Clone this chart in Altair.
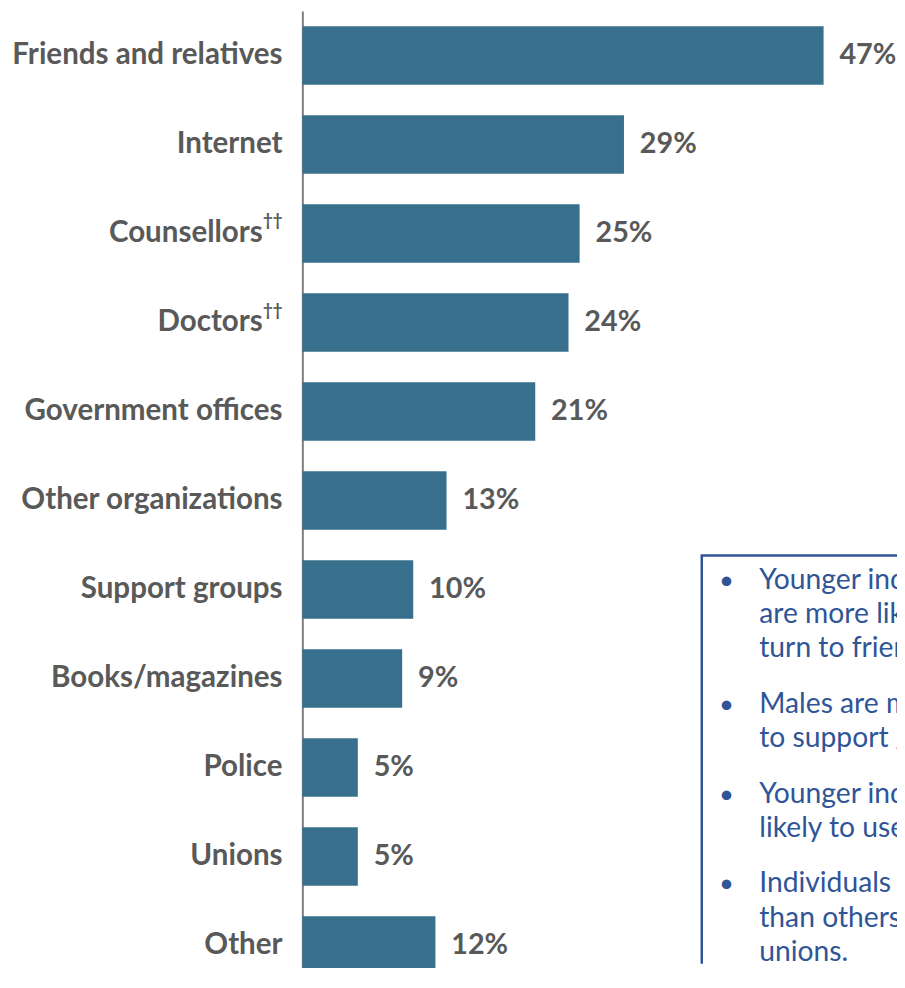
import altair as alt
import pandas as pd

categories = ["Friends and relatives", "Internet", "Counsellors", "Doctors",
              "Government offices", "Other organizations", "Support groups",
              "Books/magazines", "Police", "Unions", "Other"]
values = [47, 29, 25, 24, 21, 13, 10, 9, 5, 5, 12]
superscripts = ["", "", "††", "††", "", "", "", "", "", "", ""]
value_labels = [f"{v}%" for v in values]

note_paragraphs = [
    ["Younger individuals", "are more likely to", "turn to friends and relatives."],
    ["Males are more likely", "to support groups."],
    ["Younger individuals are more", "likely to use the Internet."],
    ["Individuals with disabilities", "than others to turn to", "unions."],
]

df = pd.DataFrame({"category": categories, "value": values,
                   "sup": superscripts, "label": value_labels})

BAR = "#376F8C"
GREY = "#595959"
NAVY = "#2F5597"
LFONT = "Lato"
LSIZE = 29.8

y_enc = alt.Y("category:N", sort=categories,
              scale=alt.Scale(range=[-1.4, 986.6], paddingInner=0.343,
                              paddingOuter=0.1715, round=False),
              axis=alt.Axis(title=None, labels=False, ticks=False, grid=False,
                            domainColor="#7F7F7F", domainWidth=2))
x_enc = alt.X("value:Q", scale=alt.Scale(domain=[0, 53.62], nice=False, zero=True), axis=None)

base = alt.Chart(df)
bars = base.mark_bar(color=BAR).encode(y=y_enc, x=x_enc)
vals = base.mark_text(align="left", baseline="middle", dx=16, font=LFONT,
                      fontSize=29, fontWeight="bold", color=GREY).encode(
    y=alt.Y("category:N", sort=categories), x="value:Q", text="label:N")
names_plain = base.transform_filter(alt.datum.sup == "").mark_text(
    align="right", baseline="middle", font=LFONT, fontSize=LSIZE,
    fontWeight="bold", color=GREY).encode(
    y=alt.Y("category:N", sort=categories), x=alt.value(-20), text="category:N")
names_sup = base.transform_filter(alt.datum.sup != "").mark_text(
    align="right", baseline="middle", font=LFONT, fontSize=LSIZE,
    fontWeight="bold", color=GREY).encode(
    y=alt.Y("category:N", sort=categories), x=alt.value(-40), text="category:N")
sups = base.transform_filter(alt.datum.sup != "").mark_text(
    align="right", baseline="middle", dy=-12, font=LFONT, fontSize=17,
    fontWeight="bold", color=GREY).encode(
    y=alt.Y("category:N", sort=categories), x=alt.value(-20), text="sup:N")

one = alt.Data(values=[{}])
box = alt.Chart(one).mark_rect(fill="white", stroke=NAVY, strokeWidth=2.5, clip=True).encode(
    x=alt.value(403), x2=alt.value(700), y=alt.value(548), y2=alt.value(1100))

layers = [bars, vals, names_plain, names_sup, sups, box]
ytop = 582
for lines in note_paragraphs:
    layers.append(alt.Chart(one).mark_text(
        align="left", baseline="alphabetic", font=LFONT, fontSize=28.5,
        lineHeight=34.5, color=NAVY, clip=True).encode(
        x=alt.value(461), y=alt.value(ytop), text=alt.value(lines)))
    layers.append(alt.Chart(one).mark_text(
        align="center", baseline="alphabetic", font=LFONT, fontSize=26,
        color=NAVY, clip=True).encode(
        x=alt.value(428), y=alt.value(ytop), text=alt.value("•")))
    ytop += 34.5 * (len(lines) - 1) + 56

chart = alt.layer(*layers).properties(
    width=600, height=960,
    autosize=alt.AutoSizeParams(type="none"),
    padding={"left": 297, "top": 0, "right": 0, "bottom": 0},
).configure_view(stroke=None)

chart.save("out.html", embed_options={"renderer": "svg", "actions": False})
